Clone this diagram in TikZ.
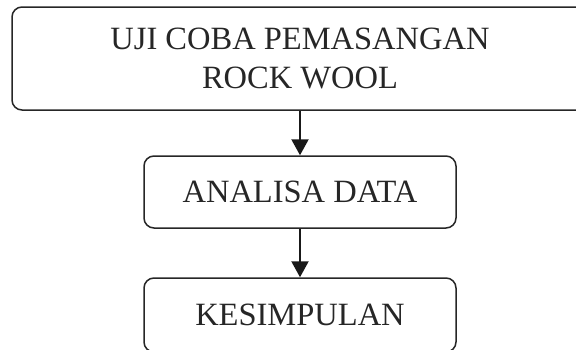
\documentclass[tikz,border=0pt]{standalone}
\usepackage{fontspec}
\setmainfont{Liberation Serif}
\usetikzlibrary{arrows.meta}
\begin{document}
\begin{tikzpicture}[x=1pt,y=-1pt,
  box/.style={draw=black!85, line width=1.5pt, rounded corners=10pt, align=center,
    inner sep=0pt, font=\fontsize{32.5}{38.5}\selectfont, text=black!85},
  flow/.style={draw=black!90, line width=2.2pt, -{Triangle[width=17pt,length=16pt]}}]
\clip (0,0) rectangle (576,349);
\node[box, minimum width=576pt, minimum height=103pt] (a) at (300,58.5) {UJI COBA PEMASANGAN\\ROCK WOOL};
\node[box, minimum width=312pt, minimum height=72pt] (b) at (300,192) {ANALISA DATA};
\node[box, minimum width=312pt, minimum height=74pt] (c) at (300,315) {KESIMPULAN};
\draw[flow] (a.south) -- (b.north);
\draw[flow] (b.south) -- (c.north);
\end{tikzpicture}
\end{document}
